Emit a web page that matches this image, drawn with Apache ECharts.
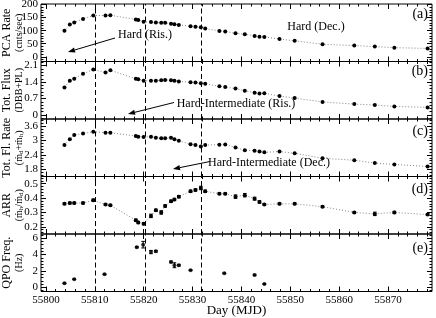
<!DOCTYPE html>
<html><head><meta charset="utf-8">
<script src="https://cdn.jsdelivr.net/npm/echarts@6/dist/echarts.min.js"></script>
<style>html,body{margin:0;padding:0;background:#fff}#c{width:436px;height:318px}</style>
</head><body><div id="c"></div>
<script>
// ---------------- data ----------------
const days = [55803.8,55804.9,55805.8,55807.6,55809.7,55812.2,55813.2,55818.4,55818.9,55820.0,
  55821.5,55822.5,55823.6,55824.4,55825.6,55826.3,55827.2,55829.6,55830.6,55831.7,
  55832.6,55835.5,55836.7,55838.8,55840.7,55842.7,55843.7,55844.7,55847.8,55850.9,
  55856.6,55863.1,55867.3,55871.3,55878.1];
const pcaRate = [100,124,131,145,158,158,159,143,141,134,133,131,130,130,126,125,122,117,115,113,
  108,99,97,90,86,80,77,76,68,61,48,43,39,35,32];
const totFlux = [1.17,1.46,1.54,1.75,1.93,1.81,1.90,1.54,1.52,1.45,1.46,1.46,1.48,1.49,1.48,1.46,1.42,1.39,1.38,1.35,
  1.33,1.22,1.19,1.12,1.03,0.94,0.91,0.92,0.80,0.72,0.55,0.46,0.42,0.36,0.32];
const totFlowRate = [2.82,3.05,3.23,3.29,3.37,3.33,3.33,3.19,3.16,3.15,3.16,3.12,3.10,3.10,3.12,3.05,2.99,2.85,2.82,2.75,
  2.81,2.83,2.84,2.71,2.60,2.58,2.54,2.51,2.54,2.47,2.26,2.18,2.06,2.00,1.92];
const arr = [0.36,0.365,0.365,0.365,0.385,0.355,0.35,0.246,0.23,0.222,0.276,0.315,0.30,0.345,0.378,0.39,0.41,0.447,0.456,0.47,
  0.447,0.43,0.43,0.41,0.42,0.396,0.373,0.355,0.36,0.36,0.34,0.30,0.29,0.30,0.285];
const arrErr = [0.006,0.006,0.006,0.006,0.008,0.006,0.006,0.008,0.008,0.008,0.012,0.008,0.012,0.008,0.008,0.008,0.008,0.008,0.008,0.012,
  0.008,0.006,0.006,0.012,0.012,0.01,0.008,0.006,0.006,0.006,0.006,0.006,0.012,0.008,0.006];
const qpoDays = [55803.8,55805.8,55812.0,55818.6,55819.9,55821.5,55822.5,55825.6,55826.3,55827.2,55829.6,55836.5,55842.7,55844.7];
const qpoFreq = [0.5,1.0,1.6,4.9,5.2,4.3,4.4,3.1,2.7,2.7,2.1,1.72,1.51,0.41];
const qpoErr  = [0.05,0.05,0.05,0.08,0.4,0.2,0.1,0.1,0.3,0.1,0.05,0.05,0.08,0.05];
const transitionDays = [55810.2, 55820.3, 55831.7];
const xTickLabels = [55800,55810,55820,55830,55840,55850,55860,55870];
const yTicksA = [0,50,100,150,200];
const yTicksB = [0,0.7,1.4,2.1];
const yTicksC = [1.8,2.4,3,3.6];
const yTicksD = [0.2,0.3,0.4,0.5];
const yTicksE = [0,2,4,6];
const panelTags = ['(a)','(b)','(c)','(d)','(e)'];

// ---------------- layout ----------------
const FONT = 'Liberation Serif';
const gridTop = [4, 61.5, 119, 176.5, 234], gridH = 57.5, gridLeft = 41, gridRight = 4;
const xMin = 55799, xMax = 55879;
function steps(min, max, step){
  const out = []; let v = Math.ceil(min/step - 1e-9)*step;
  while (v <= max + 1e-9){ out.push(Math.round(v*1e6)/1e6); v += step; }
  return out;
}
const panels = [
  {vals: pcaRate, min:-18, max:202, ticks:yTicksA, minor:10, name:'{t|PCA Rate}\n{s|(cnts/sec)}'},
  {vals: totFlux, min:-0.175, max:2.275, ticks:yTicksB, minor:0.14, name:'{t|Tot. Flux}\n{s|(DBB+PL)}'},
  {vals: totFlowRate, min:1.5, max:3.9, ticks:yTicksC, minor:0.12, name:'{t|Tot. Fl. Rate}\n{s|(ṁ}{sub|d}{s|+ṁ}{sub|h}{s|)}'},
  {vals: arr, min:0.15, max:0.55, ticks:yTicksD, minor:0.02, name:'{t|ARR}\n{s|(ṁ}{sub|h}{s|/ṁ}{sub|d}{s|)}'},
  {vals: qpoFreq, min:-0.5, max:6.5, ticks:yTicksE, minor:0.4, name:'{t|QPO Freq.}\n{s|(Hz)}'}
];
const xMinor = steps(xMin, xMax, 2);

const option = {
  animation: false,
  backgroundColor: '#fff',
  textStyle: {fontFamily: FONT, color:'#000'},
  grid: gridTop.map(t => ({left: gridLeft, right: gridRight, top: t, height: gridH, show: true,
    borderColor:'#000', borderWidth:1, backgroundColor:'transparent', outerBoundsMode:'none', containLabel:false})),
  xAxis: [], yAxis: [], series: [], graphic: []
};

function errRender(params, api){
  const x = api.value(0), y = api.value(1), e = api.value(2);
  const lo = api.coord([x, y-e]), hi = api.coord([x, y+e]);
  const w = 1.8, st = {stroke:'#000', lineWidth:1};
  return {type:'group', children:[
    {type:'line', shape:{x1:lo[0],y1:lo[1],x2:hi[0],y2:hi[1]}, style:st},
    {type:'line', shape:{x1:lo[0]-w,y1:lo[1],x2:lo[0]+w,y2:lo[1]}, style:st},
    {type:'line', shape:{x1:hi[0]-w,y1:hi[1],x2:hi[0]+w,y2:hi[1]}, style:st}
  ]};
}

const tickStyle = {color:'#000', width:1};
panels.forEach((p, i) => {
  const last = i === 4;
  const bx = {type:'value', gridIndex:i, min:xMin, max:xMax, splitLine:{show:false},
    axisLine:{show:false, onZero:false}};
  option.xAxis.push(Object.assign({}, bx, {position:'bottom',
    axisTick:{show:true, inside:true, length:5, customValues:xTickLabels, lineStyle:tickStyle},
    axisLabel:{show:last, customValues:xTickLabels, color:'#000', fontSize:11, margin:3, fontFamily:FONT,
      formatter: v => String(v)},
    name: last ? 'Day (MJD)' : '', nameLocation:'middle', nameGap:13, nameMoveOverlap:false,
    nameTextStyle:{fontSize:13, color:'#000', fontFamily:FONT}}));
  option.xAxis.push(Object.assign({}, bx, {position:'bottom',
    axisTick:{show:true, inside:true, length:2.5, customValues:xMinor, lineStyle:tickStyle}, axisLabel:{show:false}}));
  option.xAxis.push(Object.assign({}, bx, {position:'top',
    axisTick:{show:true, inside:true, length:5, customValues:xTickLabels, lineStyle:tickStyle}, axisLabel:{show:false}}));
  option.xAxis.push(Object.assign({}, bx, {position:'top',
    axisTick:{show:true, inside:true, length:2.5, customValues:xMinor, lineStyle:tickStyle}, axisLabel:{show:false}}));

  const minorY = steps(p.min, p.max, p.minor);
  const by = {type:'value', gridIndex:i, min:p.min, max:p.max, splitLine:{show:false},
    axisLine:{show:false, onZero:false}};
  option.yAxis.push(Object.assign({}, by, {position:'left',
    axisTick:{show:true, inside:true, length:5, customValues:p.ticks, lineStyle:tickStyle},
    axisLabel:{show:true, customValues:p.ticks, color:'#000', fontSize:11, margin:3, fontFamily:FONT},
    name:p.name, nameLocation:'middle', nameRotate:90, nameGap:16, nameMoveOverlap:false,
    nameTextStyle:{color:'#000', fontFamily:FONT, rich:{
      t:{fontSize:12, lineHeight:12, fontFamily:FONT, color:'#000'},
      s:{fontSize:10, lineHeight:12, fontFamily:FONT, color:'#000'},
      sub:{fontSize:7, lineHeight:8, verticalAlign:'bottom', fontFamily:FONT, color:'#000'}}}}));
  option.yAxis.push(Object.assign({}, by, {position:'left',
    axisTick:{show:true, inside:true, length:2.5, customValues:minorY, lineStyle:tickStyle}, axisLabel:{show:false}}));
  option.yAxis.push(Object.assign({}, by, {position:'right',
    axisTick:{show:true, inside:true, length:5, customValues:p.ticks, lineStyle:tickStyle}, axisLabel:{show:false}}));
  option.yAxis.push(Object.assign({}, by, {position:'right',
    axisTick:{show:true, inside:true, length:2.5, customValues:minorY, lineStyle:tickStyle}, axisLabel:{show:false}}));

  const ax = 4*i;
  const markLine = {silent:true, symbol:['none','none'], label:{show:false}, animation:false,
    lineStyle:{color:'#000', type:[5,3], width:1}, data: transitionDays.map(d => ({xAxis:d}))};
  if (!last){
    option.series.push({type:'line', xAxisIndex:ax, yAxisIndex:ax,
      data: days.map((d,k) => [d, p.vals[k]]), symbol:'circle', symbolSize:4, showSymbol:true,
      itemStyle:{color:'#000'}, lineStyle:{color:'#777', width:0.9, type:[1,2]}, markLine, z:3});
  } else {
    option.series.push({type:'scatter', xAxisIndex:ax, yAxisIndex:ax,
      data: qpoDays.map((d,k) => [d, qpoFreq[k]]), symbol:'circle', symbolSize:4,
      itemStyle:{color:'#000'}, markLine, z:3});
    option.series.push({type:'custom', xAxisIndex:ax, yAxisIndex:ax, renderItem:errRender,
      encode:{x:0, y:1}, data: qpoDays.map((d,k) => [d, qpoFreq[k], qpoErr[k]]), z:4});
  }
  if (i === 3){
    option.series.push({type:'custom', xAxisIndex:ax, yAxisIndex:ax, renderItem:errRender,
      encode:{x:0, y:1}, data: days.map((d,k) => [d, arr[k], arrErr[k]]), z:4});
  }
  option.graphic.push({type:'text', x:428, y:[14,71,131,189,248][i],
    style:{text:panelTags[i], font:'14px "Liberation Serif"', fill:'#000', align:'right', verticalAlign:'middle'}});
});

function arrow(x1,y1,x2,y2){
  const dx=x2-x1, dy=y2-y1, L=Math.hypot(dx,dy), ux=dx/L, uy=dy/L;
  const hl=7, hw=2.6, bx=x2-ux*hl, by=y2-uy*hl;
  return [{type:'line', shape:{x1:x1,y1:y1,x2:bx,y2:by}, style:{stroke:'#000', lineWidth:1}},
    {type:'polygon', shape:{points:[[x2,y2],[bx-uy*hw,by+ux*hw],[bx+uy*hw,by-ux*hw]]}, style:{fill:'#000'}}];
}
function label(text, x, y, align){
  return {type:'text', x:x, y:y, z:10, style:{text:text, font:'12px "Liberation Serif"', fill:'#000',
    align:align||'center', verticalAlign:'middle'}};
}
option.graphic.push(label('Hard (Ris.)', 118, 35, 'left'));
option.graphic.push(...arrow(115, 38, 68, 52));
option.graphic.push(label('Hard (Dec.)', 316, 27));
option.graphic.push(label('Hard-Intermediate (Ris.)', 236, 103.5));
option.graphic.push(...arrow(174, 102.5, 128, 114));
option.graphic.push(label('Hard-Intermediate (Dec.)', 269, 163));
option.graphic.push(...arrow(210, 161.5, 173, 169));

const chart = echarts.init(document.getElementById('c'), null, {renderer:'canvas'});
chart.setOption(option);
</script></body></html>
